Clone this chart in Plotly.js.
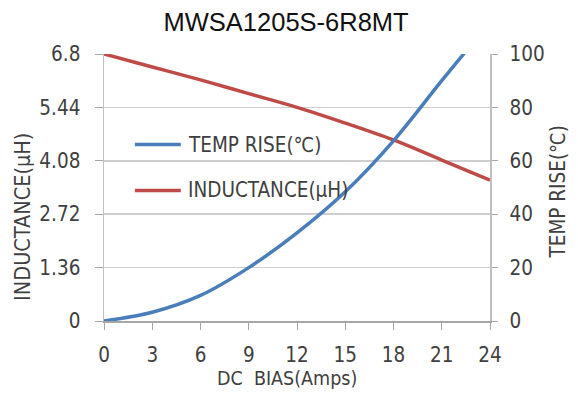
<!DOCTYPE html>
<html>
<head>
<meta charset="utf-8">
<script src="https://cdn.plot.ly/plotly-3.0.1.min.js"></script>
<style>html,body{margin:0;padding:0;background:#fff;}#chart{width:578px;height:395px;}</style>
</head>
<body>
<div id="chart"></div>
<script>
// DC bias current (A)
var dcBias = [0, 3, 6, 9, 12, 15, 18, 21, 24];
// Inductance (uH), left axis
var inductance = [6.8, 6.47, 6.14, 5.79, 5.44, 5.04, 4.61, 4.1, 3.59];
// Temperature rise (C), right axis (continues above 100, clipped by axis)
var tempRise = [0, 3.3, 9.6, 20.0, 33.0, 48.4, 67.5, 90.0, 112];

var leftTickVals = [0, 1.36, 2.72, 4.08, 5.44, 6.8];
var leftTickText = ["0", "1.36", "2.72", "4.08", "5.44", "6.8"];
var xTickVals = [0, 3, 6, 9, 12, 15, 18, 21, 24];
var rightTickVals = [0, 20, 40, 60, 80, 100];

var seriesNames = ["TEMP RISE(\u2103)", "INDUCTANCE(\u03bcH)"];
var seriesColors = ["#4a7ebb", "#be4b48"];
var axisTitles = {x: "DC&nbsp;&nbsp;BIAS(Amps)", y: "INDUCTANCE(\u03bcH)", y2: "TEMP RISE(\u2103)"};

var FONT = "Liberation Sans Narrow, DejaVu Sans Condensed, Arial Narrow, sans-serif";
var FS = 20.5;
var TXT = "#404040";

var traces = [
  {x: dcBias, y: tempRise, yaxis: "y2", type: "scatter", mode: "lines",
   name: seriesNames[0], line: {color: seriesColors[0], width: 3.5, shape: "spline", smoothing: 1}, showlegend: false},
  {x: dcBias, y: inductance, yaxis: "y", type: "scatter", mode: "lines",
   name: seriesNames[1], line: {color: seriesColors[1], width: 3.5, shape: "spline", smoothing: 1}, showlegend: false}
];

var legendY = [0.661, 0.489];
var shapes = [], annotations = [];
for (var i = 0; i < seriesNames.length; i++) {
  shapes.push({type: "line", xref: "paper", yref: "paper", x0: 0.080, x1: 0.199, y0: legendY[i], y1: legendY[i],
    line: {color: seriesColors[i], width: 3.5}});
  annotations.push({xref: "paper", yref: "paper", x: 0.213, y: legendY[i], xanchor: "left", yanchor: "middle",
    text: seriesNames[i], showarrow: false, font: {family: FONT, size: FS, color: TXT}});
}
// axis titles
annotations.push({xref: "paper", yref: "paper", x: -0.2098, y: 0.39, xanchor: "center", yanchor: "middle",
  textangle: -90, text: axisTitles.y, showarrow: false, font: {family: FONT, size: 21.5, color: TXT}});
annotations.push({xref: "paper", yref: "paper", x: 1.1736, y: 0.485, xanchor: "center", yanchor: "middle",
  textangle: -90, text: axisTitles.y2, showarrow: false, font: {family: FONT, size: FS, color: TXT}});
annotations.push({xref: "paper", yref: "paper", x: 0.474, y: -0.217, xanchor: "center", yanchor: "middle",
  text: axisTitles.x, showarrow: false, font: {family: FONT, size: 19.5, color: TXT}});

var layout = {
  width: 578, height: 395,
  margin: {l: 104, r: 88, t: 54, b: 74},
  paper_bgcolor: "#ffffff", plot_bgcolor: "#ffffff",
  title: {text: "MWSA1205S-6R8MT", font: {family: "Liberation Sans, Arial, sans-serif", size: 25.5, color: "#111"},
          x: 0.495, xanchor: "center", y: 0.944, yanchor: "middle"},
  showlegend: false,
  xaxis: {range: [0, 24], tickvals: xTickVals, ticks: "outside", ticklen: 7, tickcolor: "#a6a6a6",
          showline: true, linecolor: "#a6a6a6", linewidth: 1.5, showgrid: false, zeroline: false,
          tickfont: {family: FONT, size: FS, color: TXT}, ticklabelstandoff: 8},
  yaxis: {range: [0, 6.8], tickvals: leftTickVals, ticktext: leftTickText, ticks: "outside", ticklen: 8,
          tickcolor: "#a6a6a6", showline: true, linecolor: "#c0c0c0", linewidth: 1.5,
          showgrid: true, gridcolor: "#cfcfcf", gridwidth: 1.5, zeroline: false,
          tickfont: {family: FONT, size: FS, color: TXT}, ticklabelstandoff: 10},
  yaxis2: {range: [0, 100], tickvals: rightTickVals, overlaying: "y", side: "right", ticks: "outside", ticklen: 6,
           tickcolor: "#a6a6a6", showline: true, linecolor: "#c0c0c0", linewidth: 1.5, showgrid: false, zeroline: false,
           tickfont: {family: FONT, size: FS, color: TXT}, ticklabelstandoff: 8},
  shapes: shapes,
  annotations: annotations
};

Plotly.newPlot("chart", traces, layout, {staticPlot: true, displayModeBar: false});
</script>
</body>
</html>
